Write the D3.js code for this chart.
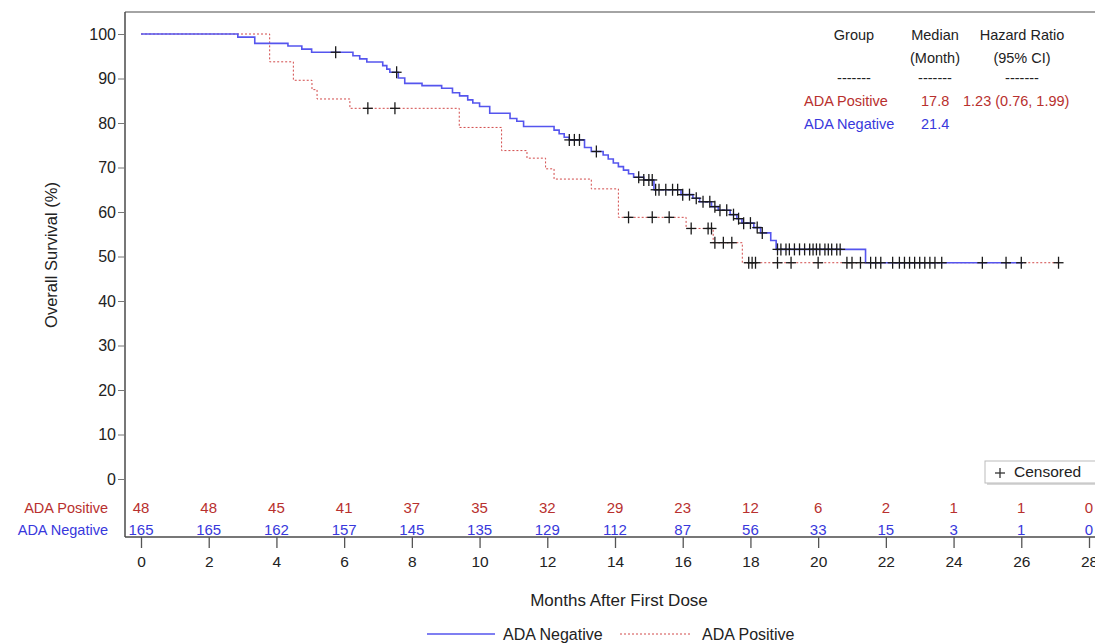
<!DOCTYPE html>
<html>
<head>
<meta charset="utf-8">
<script src="https://cdn.jsdelivr.net/npm/d3@7"></script>
<style>
  body { margin: 0; background: #fff; }
  text { font-family: "Liberation Sans", Arial, sans-serif; }
</style>
</head>
<body>
<div id="chart"></div>
<script>
// step points [month, survival %]
const negSteps = [[0, 100], [2.86, 99.3], [3.36, 97.9], [4.34, 97.3], [4.75, 96.6], [5.04, 95.9], [6.26, 95.1],
    [6.46, 94.4], [6.67, 93.7], [7.14, 92.9], [7.26, 92.1], [7.35, 91.4], [7.6, 90.1], [7.79, 88.9], [8.3, 88.4],
    [8.88, 87.8], [9.2, 86.8], [9.41, 86.1], [9.65, 85.2], [9.8, 84.5], [10.0, 83.7], [10.3, 82.2], [10.9, 81.0],
    [11.1, 80.4], [11.3, 79.2], [12.2, 78.4], [12.35, 77.6], [12.5, 76.8], [12.65, 76.2], [13.1, 74.5], [13.3, 73.6],
    [13.65, 72.8], [13.8, 71.9], [13.95, 71.0], [14.1, 70.2], [14.25, 69.4], [14.4, 68.6], [14.55, 67.8],
    [14.85, 67.2], [15.15, 65.0], [15.95, 63.9], [16.3, 63.1], [16.5, 62.3], [16.85, 61.2], [17.05, 60.4],
    [17.4, 59.4], [17.6, 58.5], [17.75, 57.5], [18.1, 56.5], [18.3, 55.3], [18.6, 53.6], [18.76, 51.6], [21.4, 48.6]];
const negEnd = 26.05;
const negCensor = [5.75, 7.55, 12.65, 12.8, 12.95, 13.45, 14.7, 14.85, 15.0, 15.1, 15.2, 15.3, 15.5, 15.7, 15.85,
    16.0, 16.2, 16.4, 16.6, 16.8, 16.95, 17.1, 17.3, 17.5, 17.65, 17.8, 18.0, 18.2, 18.35,
    18.8, 18.9, 19.05, 19.15, 19.3, 19.45, 19.6, 19.75, 19.85, 19.95, 20.05, 20.2, 20.3, 20.4, 20.55, 20.65,
    21.55, 21.7, 21.85, 22.2, 22.4, 22.55, 22.7, 22.85, 23.0, 23.15, 23.3, 23.45, 23.65, 24.85, 25.55, 26.0];

const posSteps = [[0, 100], [3.8, 93.75], [4.5, 89.6], [5.05, 87.5], [5.2, 85.4], [6.17, 83.3], [9.4, 79.0],
    [10.65, 73.8], [11.4, 72.1], [11.95, 69.7], [12.2, 67.4], [13.3, 65.2], [14.1, 58.8], [16.1, 56.3],
    [16.9, 53.1], [17.76, 48.6]];
const posEnd = 27.1;
const posCensor = [6.7, 7.5, 14.4, 15.1, 15.6, 16.25, 16.75, 16.85, 16.95, 17.2, 17.45, 17.95, 18.05, 18.15,
    18.8, 19.2, 20.0, 20.85, 21.0, 21.25, 27.1];

const riskMonths = [0, 2, 4, 6, 8, 10, 12, 14, 16, 18, 20, 22, 24, 26, 28];
const riskPos = ['48', '48', '45', '41', '37', '35', '32', '29', '23', '12', '6', '2', '1', '1', '0'];
const riskNeg = ['165', '165', '162', '157', '145', '135', '129', '112', '87', '56', '33', '15', '3', '1', '0'];

const yTicks = [0, 10, 20, 30, 40, 50, 60, 70, 80, 90, 100];
const xTicks = [0, 2, 4, 6, 8, 10, 12, 14, 16, 18, 20, 22, 24, 26, 28];

const statsHead = [['Group', ''], ['Median', '(Month)'], ['Hazard Ratio', '(95% CI)']];
const statsRows = [
    { group: 'ADA Positive', median: '17.8', hr: '1.23 (0.76, 1.99)' },
    { group: 'ADA Negative', median: '21.4', hr: '' }
];

const W = 1095, H = 644;
const redLine = '#d24a4a', blueLine = '#5555ee';
const redText = '#b8302e', blueText = '#3838dc';
const axisColor = '#4a4a4a';

const svg = d3.select('#chart').append('svg')
    .attr('width', W)
    .attr('height', H);

const x = d3.scaleLinear().domain([0, 28]).range([141, 1089]);
const y = d3.scaleLinear().domain([0, 100]).range([479, 34]);

const axisLeftX = 125, axisBottomY = 537;

// frame lines
svg.append('line')
    .attr('x1', axisLeftX).attr('x2', axisLeftX)
    .attr('y1', 12).attr('y2', axisBottomY)
    .attr('stroke', axisColor).attr('stroke-width', 1.5);
svg.append('line')
    .attr('x1', axisLeftX).attr('x2', W)
    .attr('y1', 12).attr('y2', 12)
    .attr('stroke', axisColor).attr('stroke-width', 1.2);
svg.append('line')
    .attr('x1', axisLeftX).attr('x2', W)
    .attr('y1', axisBottomY).attr('y2', axisBottomY)
    .attr('stroke', axisColor).attr('stroke-width', 1.5);

const yAxis = svg.append('g')
    .attr('transform', `translate(${axisLeftX},0)`)
    .call(d3.axisLeft(y).tickValues(yTicks).tickSize(7).tickPadding(2));
yAxis.select('.domain').remove();
yAxis.selectAll('line').attr('stroke', '#777');
yAxis.selectAll('text').attr('font-size', 16).attr('fill', '#222')
    .style('font-family', '"Liberation Sans", Arial, sans-serif');

const xAxis = svg.append('g')
    .attr('transform', `translate(0,${axisBottomY})`)
    .call(d3.axisBottom(x).tickValues(xTicks).tickSize(11).tickPadding(8));
xAxis.select('.domain').remove();
xAxis.selectAll('line').attr('stroke', '#555').attr('stroke-width', 1.3);
xAxis.selectAll('text').attr('font-size', 15.5).attr('fill', '#222')
    .style('font-family', '"Liberation Sans", Arial, sans-serif');

svg.append('text')
    .attr('transform', `translate(57,255) rotate(-90)`)
    .attr('text-anchor', 'middle')
    .attr('font-size', 16.5)
    .attr('fill', '#222')
    .text('Overall Survival (%)');

svg.append('text')
    .attr('x', 619).attr('y', 606)
    .attr('text-anchor', 'middle')
    .attr('font-size', 17)
    .attr('fill', '#222')
    .text('Months After First Dose');

// survival curves
const lineGenerator = d3.line()
    .x(d => x(d[0]))
    .y(d => y(d[1]))
    .curve(d3.curveStepAfter);

const withEnd = (steps, end) => steps.concat([[end, steps[steps.length - 1][1]]]);

svg.append('path')
    .attr('fill', 'none')
    .attr('d', lineGenerator(withEnd(posSteps, posEnd)))
    .attr('stroke', redLine)
    .attr('stroke-width', 1)
    .attr('stroke-dasharray', '2,2');

svg.append('path')
    .attr('fill', 'none')
    .attr('d', lineGenerator(withEnd(negSteps, negEnd)))
    .attr('stroke', blueLine)
    .attr('stroke-width', 1.6);

const survAt = (steps, t) => {
    let s = steps[0][1];
    steps.forEach(d => { if (d[0] <= t) s = d[1]; });
    return s;
};

const drawCensor = (times, steps) => {
    const g = svg.append('g');
    const pts = times.map(t => [x(t), y(survAt(steps, t))]);
    g.selectAll('.h').data(pts).join('line')
        .attr('x1', d => d[0] - 5).attr('x2', d => d[0] + 5)
        .attr('y1', d => d[1]).attr('y2', d => d[1])
        .attr('stroke', '#1a1a1a').attr('stroke-width', 1.3);
    g.selectAll('.v').data(pts).join('line')
        .attr('x1', d => d[0]).attr('x2', d => d[0])
        .attr('y1', d => d[1] - 6).attr('y2', d => d[1] + 6)
        .attr('stroke', '#1a1a1a').attr('stroke-width', 1.3);
};
drawCensor(posCensor, posSteps);
drawCensor(negCensor, negSteps);

// number at risk
svg.append('text')
    .attr('x', 108).attr('y', 513)
    .attr('text-anchor', 'end').attr('font-size', 14.5)
    .attr('fill', redText).text('ADA Positive');
svg.append('text')
    .attr('x', 108).attr('y', 535)
    .attr('text-anchor', 'end').attr('font-size', 14.5)
    .attr('fill', blueText).text('ADA Negative');

svg.append('g').selectAll('text').data(riskMonths).join('text')
    .attr('x', d => x(d)).attr('y', 513)
    .attr('text-anchor', 'middle').attr('font-size', 15)
    .attr('fill', redText)
    .text((d, i) => riskPos[i]);
svg.append('g').selectAll('text').data(riskMonths).join('text')
    .attr('x', d => x(d)).attr('y', 535)
    .attr('text-anchor', 'middle').attr('font-size', 15)
    .attr('fill', blueText)
    .text((d, i) => riskNeg[i]);

// stats table
const colX = [854, 935, 1022];
statsHead.forEach((h, i) => {
    svg.append('text').attr('x', colX[i]).attr('y', 40)
        .attr('text-anchor', 'middle').attr('font-size', 14.5).attr('fill', '#222').text(h[0]);
    svg.append('text').attr('x', colX[i]).attr('y', 63)
        .attr('text-anchor', 'middle').attr('font-size', 14.5).attr('fill', '#222').text(h[1]);
    svg.append('text').attr('x', colX[i]).attr('y', 83)
        .attr('text-anchor', 'middle').attr('font-size', 14.5).attr('fill', '#222').text('-------');
});
statsRows.forEach((r, i) => {
    const col = i === 0 ? redText : blueText;
    const yy = 106 + i * 23;
    svg.append('text').attr('x', 804).attr('y', yy).attr('font-size', 14.5).attr('fill', col).text(r.group);
    svg.append('text').attr('x', 921).attr('y', yy).attr('font-size', 14.5).attr('fill', col).text(r.median);
    svg.append('text').attr('x', 963).attr('y', yy).attr('font-size', 14.5).attr('fill', col).text(r.hr);
});

// censored legend box
const cl = svg.append('g').attr('transform', 'translate(985,461)');
cl.append('rect').attr('x', 2).attr('y', 2).attr('width', 118).attr('height', 22)
    .attr('fill', '#d8d8d8');
cl.append('rect').attr('width', 118).attr('height', 22)
    .attr('fill', '#fff').attr('stroke', '#bbb');
cl.append('line').attr('x1', 10).attr('x2', 20).attr('y1', 12).attr('y2', 12)
    .attr('stroke', '#333').attr('stroke-width', 1.3);
cl.append('line').attr('x1', 15).attr('x2', 15).attr('y1', 7).attr('y2', 17)
    .attr('stroke', '#333').attr('stroke-width', 1.3);
cl.append('text').attr('x', 29).attr('y', 16).attr('font-size', 15.5).attr('fill', '#222').text('Censored');

// bottom legend
svg.append('line').attr('x1', 427).attr('x2', 495).attr('y1', 634).attr('y2', 634)
    .attr('stroke', blueLine).attr('stroke-width', 1.3);
svg.append('text').attr('x', 503).attr('y', 640).attr('font-size', 16).attr('fill', '#222').text('ADA Negative');
svg.append('line').attr('x1', 620).attr('x2', 692).attr('y1', 634).attr('y2', 634)
    .attr('stroke', redLine).attr('stroke-width', 1).attr('stroke-dasharray', '2,2');
svg.append('text').attr('x', 702).attr('y', 640).attr('font-size', 16).attr('fill', '#222').text('ADA Positive');
</script>
</body>
</html>
